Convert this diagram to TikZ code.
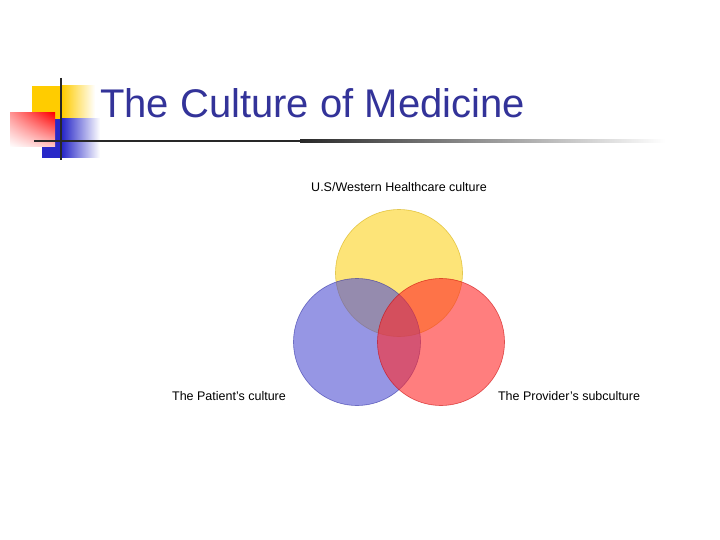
\documentclass[tikz,border=0pt]{standalone}
\usepackage{fontspec}
\usetikzlibrary{shadings}
\setmainfont{Liberation Sans}
\definecolor{cyel}{RGB}{255,204,0}
\definecolor{cblu}{RGB}{40,40,200}
\definecolor{cred}{RGB}{255,0,0}
\definecolor{cred2}{RGB}{255,150,150}
\definecolor{cred3}{RGB}{255,200,200}
\definecolor{cdark}{RGB}{40,40,40}
\definecolor{ctitle}{RGB}{51,51,153}
\definecolor{vy}{RGB}{253,210,30}
\definecolor{vyd}{RGB}{210,170,0}
\definecolor{vb}{RGB}{80,80,210}
\definecolor{vbd}{RGB}{40,40,160}
\definecolor{vr}{RGB}{255,40,40}
\definecolor{vrd}{RGB}{200,0,0}
\begin{document}
\begin{tikzpicture}[x=1pt,y=-1pt,
  venn/.style={circle,minimum size=127pt,inner sep=0pt,draw,line width=0.6pt,opacity=0.6},
  lbl/.style={font=\fontsize{12.5}{14}\selectfont,inner sep=0pt}]
\useasboundingbox (0,0) rectangle (720,540);
\fill[white] (0,0) rectangle (720,540);
% decoration
\fill[left color=cyel,right color=white] (62,86) rectangle (95,119);
\fill[cyel] (32,86) rectangle (62,119);
\fill[left color=cblu,right color=white] (62,119) rectangle (100,158);
\fill[cblu] (42,119) rectangle (62,158);
\shade[upper right=cred,upper left=cred2,lower right=cred3,lower left=white] (10,113) rectangle (55,147);
\draw[line width=2pt,cdark] (61,78) -- (61,160);
\shade[left color=cdark,right color=white] (300,140) rectangle (665,142.5);
\fill[cdark] (34,140) rectangle (300,142.5);
\node[anchor=west,text=ctitle,font=\fontsize{40}{44}\selectfont,inner sep=0pt] (title) at (100,103) {The Culture of Medicine};
% venn
\node[venn,fill=vy,draw=vyd] (y) at (399,273) {};
\node[venn,fill=vb,draw=vbd] (b) at (357,342) {};
\node[venn,fill=vr,draw=vrd] (r) at (441,342) {};
\node[lbl] (ly) at (399,187) {U.S/Western Healthcare culture};
\node[lbl] (lb) at (229,396) {The Patient’s culture};
\node[lbl] (lr) at (569,396) {The Provider’s subculture};
\end{tikzpicture}
\end{document}
